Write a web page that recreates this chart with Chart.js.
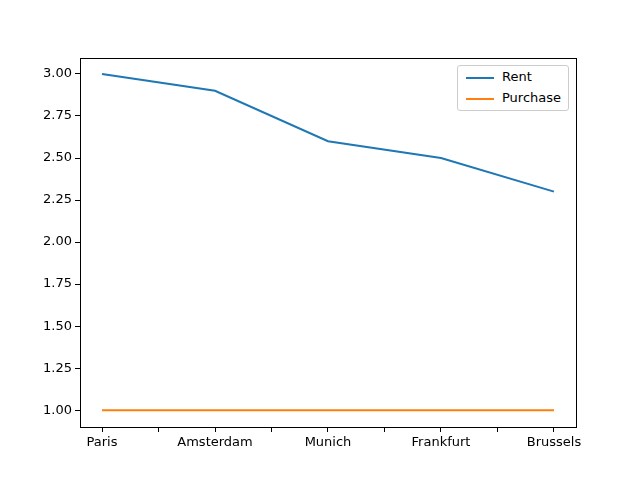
<!DOCTYPE html>
<html>
<head>
<meta charset="utf-8">
<script src="https://cdn.jsdelivr.net/npm/chart.js@4/dist/chart.umd.min.js"></script>
<style>
  body { margin: 0; background: #fff; }
  #wrap { position: relative; width: 640px; height: 480px; }
  #legend {
    position: absolute; left: 457px; top: 65px; width: 110px; height: 44px;
    border: 1px solid #ccc; border-radius: 3px; background: #fff;
    font: 13px "DejaVu Sans", sans-serif; color: #000;
  }
  .item { position: absolute; left: 8px; height: 16px; line-height: 16px; }
  .swatch { display: inline-block; width: 28px; height: 2px; vertical-align: middle; margin-right: 8px; }
</style>
</head>
<body>
<div id="wrap">
  <canvas id="c" width="640" height="480"></canvas>
  <div id="legend">
    <div class="item" style="top:3px"><span class="swatch" style="background:#1f77b4"></span>Rent</div>
    <div class="item" style="top:24px"><span class="swatch" style="background:#ff7f0e"></span>Purchase</div>
  </div>
</div>
<script>
// categories and series
const cities = ['Paris', 'Amsterdam', 'Munich', 'Frankfurt', 'Brussels'];
const rent = [3.0, 2.9, 2.6, 2.5, 2.3];
const purchase = [1.0, 1.0, 1.0, 1.0, 1.0];
const yTicks = [1.0, 1.25, 1.5, 1.75, 2.0, 2.25, 2.5, 2.75, 3.0];

const toPoints = arr => arr.map((v, i) => ({ x: i, y: v }));
const font = { family: 'DejaVu Sans', size: 13 };

// full frame around the plot area, like matplotlib's spines
const frame = {
  id: 'frame',
  afterDraw(chart) {
    const { ctx, chartArea: a } = chart;
    ctx.save();
    ctx.strokeStyle = '#000';
    ctx.lineWidth = 1;
    ctx.strokeRect(Math.round(a.left) + 0.5, Math.round(a.top) + 0.5,
                   Math.round(a.right - a.left), Math.round(a.bottom - a.top));
    ctx.restore();
  }
};

new Chart(document.getElementById('c'), {
  type: 'line',
  data: {
    datasets: [
      { label: 'Rent', data: toPoints(rent), borderColor: '#1f77b4', borderWidth: 2, pointRadius: 0, tension: 0 },
      { label: 'Purchase', data: toPoints(purchase), borderColor: '#ff7f0e', borderWidth: 2, pointRadius: 0, tension: 0 }
    ]
  },
  options: {
    responsive: false,
    animation: false,
    layout: { padding: { top: 58, right: 64, left: 0, bottom: 0 } },
    plugins: { legend: { display: false }, tooltip: { enabled: false } },
    scales: {
      x: {
        type: 'linear', min: -0.195, max: 4.195,
        afterBuildTicks: s => { s.ticks = [0, 0.5, 1, 1.5, 2, 2.5, 3, 3.5, 4].map(v => ({ value: v })); },
        afterFit: s => { s.height = 53; },
        ticks: { color: '#000', font, maxRotation: 0, autoSkip: false,
                 callback: v => Number.isInteger(v) ? cities[v] : '' },
        grid: { drawOnChartArea: false, color: '#000', tickLength: 5 },
        border: { color: '#000' }
      },
      y: {
        min: 0.9, max: 3.095,
        afterBuildTicks: s => { s.ticks = yTicks.map(v => ({ value: v })); },
        afterFit: s => { s.width = 80; },
        ticks: { color: '#000', font, callback: v => v.toFixed(2) },
        grid: { drawOnChartArea: false, color: '#000', tickLength: 5 },
        border: { color: '#000' }
      }
    }
  },
  plugins: [frame]
});
</script>
</body>
</html>
